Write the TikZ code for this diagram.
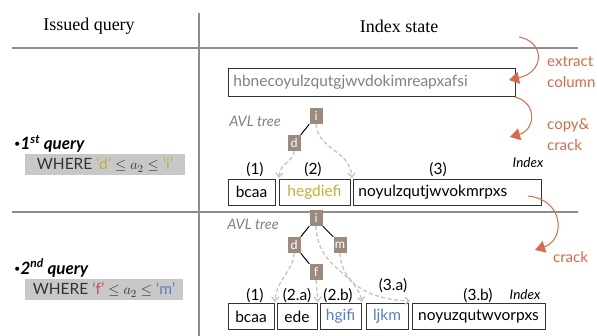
\documentclass[tikz,border=0pt]{standalone}
\usepackage{fontspec}
\setmainfont{Liberation Serif}
\newfontfamily\gs{Lato}
\usetikzlibrary{arrows.meta}
\definecolor{rulec}{HTML}{8C8C8C}
\definecolor{crackc}{HTML}{D9694A}
\definecolor{treec}{HTML}{9C8A7E}
\definecolor{dashc}{HTML}{C9C2BA}
\definecolor{yelc}{HTML}{C2B035}
\definecolor{redc}{HTML}{C0504D}
\definecolor{bluec}{HTML}{5B7FC0}
\definecolor{qboxc}{HTML}{C8C8C8}
\definecolor{greytxt}{HTML}{808080}
\tikzset{
  rulel/.style={draw=rulec, line width=1.3pt},
  piece/.style={draw=black!80, line width=0.8pt, inner sep=0pt, minimum height=26pt,
    font=\gs\fontsize{15.5}{17}\selectfont},
  tnode/.style={fill=treec, text=white, minimum width=13pt, minimum height=16pt,
    inner sep=0pt, font=\gs\fontsize{12.5}{12.5}\selectfont},
  tedge/.style={draw=black, line width=1pt},
  dasharr/.style={draw=dashc, line width=1.3pt, dash pattern=on 4pt off 2.5pt,
    -{Straight Barb[length=4pt,width=7pt]}},
  crackarr/.style={draw=crackc, line width=1pt, -{Triangle[length=10pt,width=12pt]}},
  lbl/.style={font=\gs\fontsize{15.5}{17}\selectfont, inner sep=0pt},
  side/.style={font=\gs\fontsize{15}{17}\selectfont, text=crackc, inner sep=0pt, anchor=west},
  head/.style={font=\fontsize{18}{20}\selectfont, inner sep=0pt},
  avl/.style={font=\gs\itshape\fontsize{14.5}{16}\selectfont, text=greytxt, inner sep=0pt},
  idx/.style={font=\gs\itshape\fontsize{13.5}{15}\selectfont, inner sep=0pt},
  qtitle/.style={font=\gs\bfseries\itshape\fontsize{17}{19}\selectfont, inner sep=0pt, anchor=west},
  qbox/.style={fill=qboxc, inner sep=0pt, minimum height=21pt, text=black!80,
    font=\gs\fontsize{15.5}{17}\selectfont}
}
\begin{document}
\begin{tikzpicture}[x=1pt,y=-1pt]
\useasboundingbox (0,0) rectangle (597,336);

% table rules
\draw[rulel] (12,48) -- (578,48);
\draw[rulel] (12,212) -- (578,212);
\draw[rulel] (199,13) -- (199,336);

% headings
\node[head] (h1) at (89,26) {Issued query};
\node[head] (h2) at (399,26) {Index state};

% base column
\node[piece, minimum width=287pt, minimum height=28pt, text=greytxt, anchor=west,
      align=left, text width=277pt, inner xsep=5pt] (col) at (228,82)
      {hbnecoyulzqutgjwvdokimreapxafsi};

% ---------- first query ----------
\node[qtitle] (q1) at (14,144) {{\mdseries\fontsize{11}{11}\selectfont\raisebox{2pt}{•}}1\textsuperscript{st} query};
\node[qbox, minimum width=160pt] (w1) at (105,165)
  {WHERE \textcolor{yelc}{‘d’} $\leq$ $a_2$ $\leq$ \textcolor{yelc}{‘i’}};

\node[avl] (avl1) at (255,121) {AVL tree};
\node[tnode] (i1) at (316,116) {i};
\node[tnode] (d1) at (294,143) {d};
\draw[tedge] (i1.south west) -- (d1.north east);

\node[piece, minimum width=47pt] (p11) at (251.5,192) {bcaa};
\node[piece, minimum width=71pt, text=yelc] (p12) at (314.5,192) {hegdiefi};
\node[piece, minimum width=188pt, anchor=west, text width=178pt, align=left, inner xsep=5pt]
  (p13) at (353,192) {noyulzqutjwvokmrpxs};

\node[lbl] (l11) at (255,170) {(1)};
\node[lbl] (l12) at (313,170) {(2)};
\node[lbl] (l13) at (438,170) {(3)};
\node[idx] (ix1) at (528,163) {Index};

\coordinate (t11) at (279,178);
\coordinate (t12) at (352,178);
\draw[dasharr] (d1.south) .. controls (294,162) and (280,162) .. (t11);
\draw[dasharr] (i1.south) .. controls (318,150) and (350,150) .. (t12);

% ---------- second query ----------
\node[qtitle] (q2) at (14,268) {{\mdseries\fontsize{11}{11}\selectfont\raisebox{2pt}{•}}2\textsuperscript{nd} query};
\node[qbox, minimum width=158pt] (w2) at (104,290)
  {WHERE \textcolor{redc}{‘f’} $\leq$ $a_2$ $\leq$ \textcolor{bluec}{‘m’}};

\node[avl] (avl2) at (253,224) {AVL tree};
\node[tnode] (i2) at (316,218) {i};
\node[tnode] (d2) at (294,245) {d};
\node[tnode] (m2) at (340,245) {m};
\node[tnode] (f2) at (316,272) {f};
\draw[tedge] (i2.south west) -- (d2.north east);
\draw[tedge] (i2.south east) -- (m2.north west);
\draw[tedge] (d2.south east) -- (f2.north west);

\node[piece, minimum width=46pt] (p21) at (251,316.5) {bcaa};
\node[piece, minimum width=40pt] (p22) at (297,316.5) {ede};
\node[piece, minimum width=41pt, text=bluec] (p23) at (340.5,316.5) {hgifi};
\node[piece, minimum width=42pt, text=bluec] (p24) at (387,316.5) {ljkm};
\node[piece, minimum width=133pt] (p25) at (478.5,316.5) {noyuzqutwvorpxs};

\node[lbl] (l21) at (255,296) {(1)};
\node[lbl] (l22) at (297,296) {(2.a)};
\node[lbl] (l23) at (338,296) {(2.b)};
\node[lbl] (l24) at (393,286) {(3.a)};
\node[lbl] (l25) at (478,296) {(3.b)};
\node[idx] (ix2) at (525,295) {Index};

\coordinate (t21) at (275,302);
\coordinate (t22) at (318,302);
\coordinate (t23) at (362,302);
\coordinate (t24) at (410,301);
\draw[dasharr] (d2.south) .. controls (294,270) and (276,280) .. (t21);
\draw[dasharr] (f2.south) -- (t22);
\draw[dasharr] (i2.south) .. controls (318,270) and (355,270) .. (t23);
\draw[dasharr] (m2.south) .. controls (342,290) and (380,300) .. (t24);

% ---------- cracking steps ----------
\node[side] (s1) at (547,62) {extract};
\node[side] (s2) at (547,82) {column};
\node[side] (s3) at (547,125) {copy\&};
\node[side] (s4) at (547,145) {crack};
\node[side] (s5) at (553,257) {crack};

\coordinate (a1s) at (519,37);
\coordinate (a1e) at (509,80);
\coordinate (a2s) at (515,97);
\coordinate (a2e) at (510,137);
\coordinate (a3s) at (528,196);
\coordinate (a3e) at (535,250);
\draw[crackarr] (a1s) .. controls (545,42) and (545,72) .. (a1e);
\draw[crackarr] (a2s) .. controls (538,103) and (535,130) .. (a2e);
\draw[crackarr] (a3s) .. controls (565,200) and (565,240) .. (a3e);
\end{tikzpicture}
\end{document}
